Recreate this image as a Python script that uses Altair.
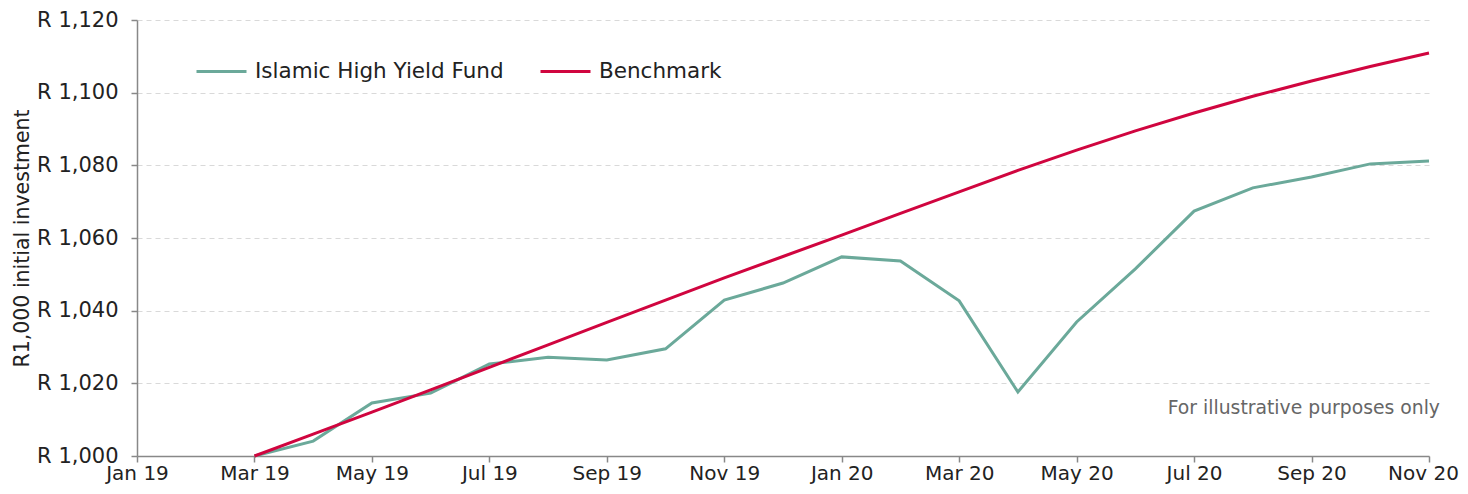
import altair as alt
import pandas as pd

months = ["Jan 19", "Feb 19", "Mar 19", "Apr 19", "May 19", "Jun 19", "Jul 19", "Aug 19",
          "Sep 19", "Oct 19", "Nov 19", "Dec 19", "Jan 20", "Feb 20", "Mar 20", "Apr 20",
          "May 20", "Jun 20", "Jul 20", "Aug 20", "Sep 20", "Oct 20", "Nov 20"]

# values from Mar 19 (index 2) to Nov 20 (index 22)
fund = [1000.0, 1004.1, 1014.6, 1017.3, 1025.3, 1027.2, 1026.4, 1029.5, 1042.9, 1047.6,
        1054.8, 1053.7, 1042.7, 1017.6, 1036.9, 1051.5, 1067.4, 1073.8, 1076.8, 1080.4, 1081.2]
benchmark = [1000.0, 1006.0, 1012.1, 1018.2, 1024.4, 1030.6, 1036.8, 1042.9, 1049.0, 1054.9,
             1060.8, 1066.8, 1072.7, 1078.6, 1084.2, 1089.5, 1094.4, 1099.0, 1103.2, 1107.2, 1110.9]
start_idx = 2

series_names = ["Islamic High Yield Fund", "Benchmark"]
series_colors = ["#6BA99A", "#D0053F"]

rows = []
for name, vals in zip(series_names, [fund, benchmark]):
    for i, v in enumerate(vals):
        rows.append({"m": start_idx + i, "month": months[start_idx + i], "value": v, "series": name})
df = pd.DataFrame(rows)

tick_labels = months[::2]
label_expr = "[" + ",".join("'" + t + "'" for t in tick_labels) + "][datum.value/2]"

W, H = 1292, 436
FONT = "DejaVu Sans"

lines = alt.Chart(df).mark_line(strokeWidth=3).encode(
    x=alt.X("m:Q", scale=alt.Scale(domain=[0, 22], nice=False, zero=False),
            axis=alt.Axis(values=list(range(0, 23, 2)), labelExpr=label_expr, title=None,
                          grid=False, domainColor="#888888", tickColor="#888888",
                          tickSize=6, labelFontSize=20, labelColor="#222222",
                          labelPadding=1, labelFont=FONT, domainWidth=1.5,
                          tickWidth=1.5, labelOverlap=False, labelFlush=False,
                          labelOffset={"condition": {"test": "datum.value == 22", "value": -6},
                                       "value": 0})),
    y=alt.Y("value:Q", scale=alt.Scale(domain=[1000, 1120], nice=False, zero=False),
            axis=alt.Axis(values=list(range(1000, 1121, 20)),
                          labelExpr="'R ' + format(datum.value, ',')",
                          title="R1,000 initial investment", titleFontSize=20.5,
                          titleFontWeight="normal", titleColor="#222222", titleFont=FONT,
                          titlePadding=4,
                          grid=True, gridDash=[5, 4], gridColor="#D9D9D9", gridWidth=1.2,
                          domainColor="#888888", tickColor="#888888", tickSize=6,
                          labelFontSize=21, labelColor="#222222", labelFont=FONT,
                          labelPadding=13, domainWidth=1.5, tickWidth=1.5)),
    color=alt.Color("series:N", scale=alt.Scale(domain=series_names, range=series_colors),
                    legend=alt.Legend(title=None, orient="none", legendX=58, legendY=25,
                                      direction="horizontal", symbolType="stroke",
                                      symbolStrokeWidth=3, symbolSize=2500, labelFontSize=21.5,
                                      labelFont=FONT, labelColor="#222222", labelLimit=400,
                                      labelOffset=7, columnPadding=30)),
    order=alt.Order("m:Q"),
)

note = alt.Chart(pd.DataFrame({"t": ["For illustrative purposes only"]})).mark_text(
    align="right", baseline="middle", fontSize=18.8, color="#666666", font=FONT
).encode(x=alt.value(W + 11), y=alt.value(H - 48), text="t:N")

chart = alt.layer(lines, note).properties(
    width=W, height=H,
    autosize=alt.AutoSizeParams(type="none"),
    padding={"left": 129, "top": 12, "right": 31, "bottom": 30},
).configure_view(stroke=None)

chart.save("out.html", embed_options={"renderer": "svg", "actions": False})
